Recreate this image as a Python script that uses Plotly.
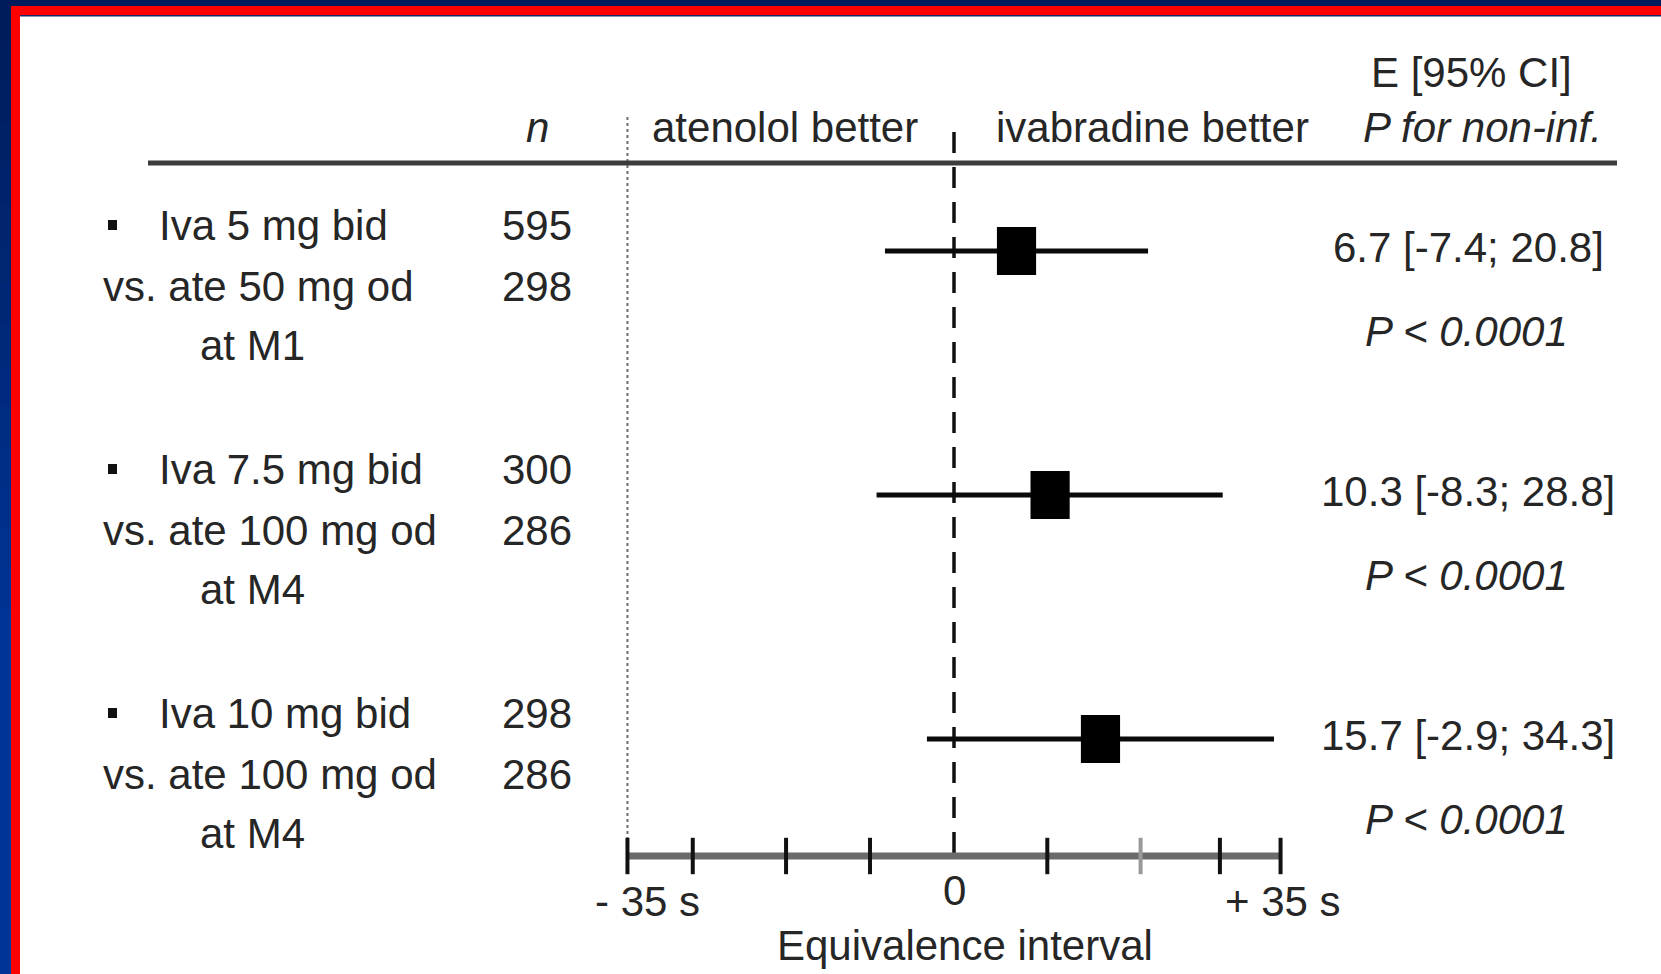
import plotly.graph_objects as go

# ---- data -------------------------------------------------------------
treatments = ["Iva 5 mg bid", "Iva 7.5 mg bid", "Iva 10 mg bid"]
comparators = ["vs. ate 50 mg od", "vs. ate 100 mg od", "vs. ate 100 mg od"]
timepoints = ["at M1", "at M4", "at M4"]
n_iva = [595, 300, 298]
n_ate = [298, 286, 286]
estimates = [6.7, 10.3, 15.7]
ci_low = [-7.4, -8.3, -2.9]
ci_high = [20.8, 28.8, 34.3]
p_values = ["P < 0.0001", "P < 0.0001", "P < 0.0001"]
equivalence_margin = 35
axis_ticks = [-35, -28, -18, -9, 10, 20, 28.5, 35]
axis_tick_labels = {-35: "- 35 s", 0: "0", 35: "+ 35 s"}

# ---- layout constants (pixels) ---------------------------------------
W, H = 1661, 974
ZERO_PX = 954          # horizontal pixel position of x = 0
PX_PER_UNIT = 9.33     # pixels per second on the x scale
ROW0, ROW_STEP = 225, 244
AXIS_Y = 856
FONT = "Liberation Sans, Arial, sans-serif"
TXT = "#262626"
FS = 42

x_min = -ZERO_PX / PX_PER_UNIT
x_max = (W - ZERO_PX) / PX_PER_UNIT


def paper_x(px):
    return px / W


fig = go.Figure()
annotations = []
shapes = []


def label(text, px, py, anchor="center", italic=False, size=FS):
    if italic:
        text = f"<i>{text}</i>"
    annotations.append(dict(
        text=text, x=paper_x(px), xref="paper",
        y=py, yref="y", xanchor=anchor, yanchor="middle", showarrow=False,
        font=dict(family=FONT, size=size, color=TXT),
    ))


# ---- slide frame -----------------------------------------------------
def mix(c1, c2, t):
    return "#%02x%02x%02x" % tuple(round(a + (b - a) * t) for a, b in zip(c1, c2))


navy, blue = (0, 28, 90), (0, 52, 150)
steps = 24
for i in range(steps):
    y0 = H * i / steps
    y1 = H * (i + 1) / steps
    shapes.append(dict(type="rect", xref="paper", yref="y", x0=0, x1=paper_x(11),
                       y0=y0, y1=y1 + 1, line=dict(width=0),
                       fillcolor=mix(navy, blue, min(1, (i / steps) * 1.6)), layer="below"))
shapes.append(dict(type="rect", xref="paper", yref="y", x0=0, x1=1, y0=0, y1=6,
                   line=dict(width=0), fillcolor="#001c5a", layer="below"))
shapes.append(dict(type="rect", xref="paper", yref="y", x0=paper_x(11), x1=1, y0=6, y1=15,
                   line=dict(width=0), fillcolor="#ff0000", layer="below"))
shapes.append(dict(type="rect", xref="paper", yref="y", x0=paper_x(20), x1=1, y0=15, y1=16.5,
                   line=dict(width=0), fillcolor="#1a2a6a", layer="below"))
shapes.append(dict(type="rect", xref="paper", yref="y", x0=paper_x(11), x1=paper_x(20), y0=6, y1=H,
                   line=dict(width=0), fillcolor="#ff0000", layer="below"))

# ---- header ----------------------------------------------------------
label("E [95% CI]", 1471, 72)
label("n", 537, 127, italic=True)
label("atenolol better", 785, 127)
label("ivabradine better", 1152, 127)
label("P for non-inf.", 1482, 127, italic=True)
shapes.append(dict(type="line", xref="paper", yref="y", x0=paper_x(148), x1=paper_x(1617),
                   y0=163, y1=163, line=dict(color="#3c3c3c", width=5)))

# ---- reference lines -------------------------------------------------
fig.add_trace(go.Scatter(
    x=[-equivalence_margin, -equivalence_margin], y=[117, AXIS_Y], mode="lines",
    line=dict(color="#6e6e6e", width=2, dash="dot"), hoverinfo="skip"))
fig.add_trace(go.Scatter(
    x=[0, 0], y=[132, AXIS_Y], mode="lines",
    line=dict(color="#111111", width=3.5, dash="21px,14px"), hoverinfo="skip"))

# ---- rows ------------------------------------------------------------
row_y = [ROW0 + ROW_STEP * i for i in range(len(treatments))]
ci_y = [y + 26 for y in row_y]

for i, y in enumerate(row_y):
    shapes.append(dict(type="rect", xref="paper", yref="y",
                       x0=paper_x(108), x1=paper_x(117), y0=y - 5, y1=y + 5,
                       line=dict(width=0), fillcolor="#111111"))
    label(treatments[i], 157, y, anchor="left")
    label(comparators[i], 101, y + 61, anchor="left")
    label(timepoints[i], 198, y + 120, anchor="left")
    label(str(n_iva[i]), 537, y)
    label(str(n_ate[i]), 537, y + 61)
    label(f"{estimates[i]} [{ci_low[i]}; {ci_high[i]}]", 1468, y + 22)
    label(p_values[i], 1466, y + 106, italic=True)

# confidence intervals
fig.add_trace(go.Scatter(
    x=estimates, y=ci_y, mode="markers",
    marker=dict(size=1, color="rgba(0,0,0,0)"),
    error_x=dict(type="data", symmetric=False,
                 array=[h - e for h, e in zip(ci_high, estimates)],
                 arrayminus=[e - l for e, l in zip(estimates, ci_low)],
                 thickness=5, width=0, color="#0a0a0a"),
    hoverinfo="skip"))

# point estimates as filled boxes
half_w = 2.1
for e, y in zip(estimates, ci_y):
    shapes.append(dict(type="rect", xref="x", yref="y", x0=e - half_w, x1=e + half_w,
                       y0=y - 24, y1=y + 24, line=dict(width=0), fillcolor="#000000"))

# ---- equivalence axis ------------------------------------------------
fig.add_trace(go.Scatter(
    x=[-equivalence_margin, equivalence_margin], y=[AXIS_Y, AXIS_Y], mode="lines",
    line=dict(color="#6b6b6b", width=7), hoverinfo="skip"))
fig.add_trace(go.Scatter(
    x=axis_ticks, y=[AXIS_Y] * len(axis_ticks), mode="markers",
    marker=dict(symbol="line-ns", size=26,
                line=dict(width=4, color=["#999999" if t == 20 else "#111111" for t in axis_ticks])),
    hoverinfo="skip"))

tick_shift = {-35: 20, 0: 0, 35: 2}
for v, txt in axis_tick_labels.items():
    annotations.append(dict(
        text=txt, x=v, xref="x", y=901 if v else 890, yref="y", xshift=tick_shift[v],
        xanchor="center", yanchor="middle", showarrow=False,
        font=dict(family=FONT, size=FS, color=TXT)))
label("Equivalence interval", 965, 945)

fig.update_layout(
    width=W, height=H, margin=dict(l=0, r=0, t=0, b=0),
    paper_bgcolor="white", plot_bgcolor="white", showlegend=False,
    xaxis=dict(range=[x_min, x_max], domain=[0, 1], visible=False, fixedrange=True),
    yaxis=dict(range=[H, 0], domain=[0, 1], visible=False, fixedrange=True),
    annotations=annotations, shapes=shapes,
)

fig.write_html("out.html", config={"displayModeBar": False})
